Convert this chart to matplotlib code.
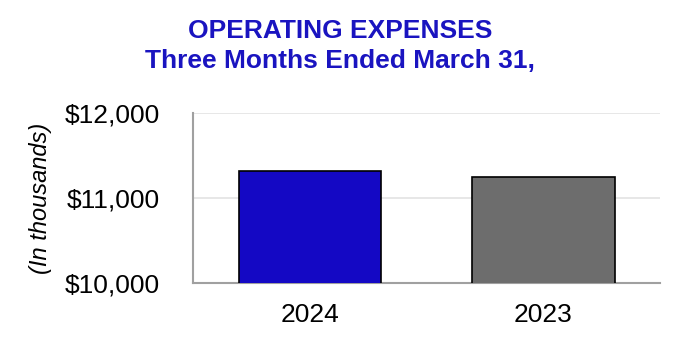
import matplotlib.pyplot as plt

years = ['2024', '2023']
expenses = [11321, 11247]  # in thousands
bar_colors = ['#1408c4', '#6d6d6d']
yticks = [10000, 11000, 12000]

plt.rcParams['font.family'] = ['Liberation Sans', 'DejaVu Sans']

fig = plt.figure(figsize=(6.8, 3.5), dpi=100)
ax = fig.add_axes([0.284, 0.191, 0.687, 0.486])

ax.bar(range(len(years)), expenses, width=0.61, color=bar_colors,
       edgecolor='black', linewidth=1.2, zorder=3)

ax.set_ylim(10000, 12000)
ax.set_xlim(-0.5, 1.5)
ax.set_yticks(yticks)
ax.set_yticklabels(['${:,}'.format(v) for v in yticks])
ax.set_xticks(range(len(years)))
ax.set_xticklabels(years)
ax.tick_params(axis='both', length=0, labelsize=19)
ax.tick_params(axis='y', pad=24)
ax.tick_params(axis='x', pad=14)
ax.yaxis.grid(True, color='#e3e3e3', linewidth=1.2, zorder=0)

for s in ['top', 'right']:
    ax.spines[s].set_visible(False)
for s in ['left', 'bottom']:
    ax.spines[s].set_color('#a0a0a0')
    ax.spines[s].set_linewidth(1.5)

ax.set_ylabel('(In thousands)', fontsize=17, style='italic')
ax.yaxis.set_label_coords(-0.303, 0.5)

fig.text(0.5, 0.891, 'OPERATING EXPENSES', ha='center', va='baseline',
         fontsize=19, fontweight='bold', color='#1a14c0')
fig.text(0.5, 0.806, 'Three Months Ended March 31,', ha='center', va='baseline',
         fontsize=19, fontweight='bold', color='#1a14c0')

fig.savefig('out.png', dpi=100)
